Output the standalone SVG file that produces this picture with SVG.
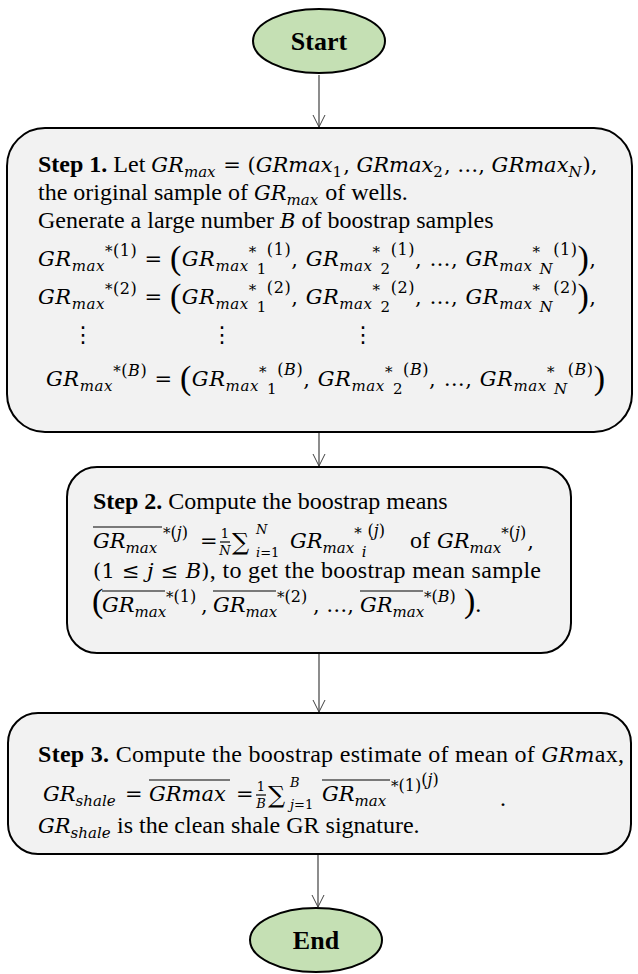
<svg xmlns="http://www.w3.org/2000/svg" width="638" height="974" viewBox="0 0 638 974">
<defs>
<marker id="ah" markerWidth="14" markerHeight="14" refX="12.5" refY="6.5" orient="auto" markerUnits="userSpaceOnUse">
<path d="M0.5,0.5 L12.5,6.5 L0.5,12.5" fill="none" stroke="#404040" stroke-width="1"/>
</marker>
<style>
.node{fill:#f2f2f2;stroke:#000;stroke-width:2}
.term{fill:#c5e0b4;stroke:#000;stroke-width:2}
.edge{stroke:#404040;stroke-width:1.2;fill:none;marker-end:url(#ah)}
text{font-family:"Liberation Serif","Times New Roman",serif;font-size:24px;fill:#000}
.b{font-weight:bold}
.m{font-family:"DejaVu Serif",serif;font-style:italic;font-size:21px}
.mu{font-family:"DejaVu Serif",serif;font-size:21px}
.ms{font-family:"DejaVu Serif",serif;font-style:italic;font-size:15px}
.mus{font-family:"DejaVu Serif",serif;font-size:15px}
.mp{font-family:"DejaVu Serif",serif;font-size:16px}
.mpi{font-family:"DejaVu Serif",serif;font-style:italic;font-size:16px}
.mt{font-family:"DejaVu Serif",serif;font-size:13px}
.mti{font-family:"DejaVu Serif",serif;font-style:italic;font-size:13px}
.sig{font-family:"DejaVu Serif",serif;font-size:24px}
.bp{font-family:"Liberation Serif",serif;font-size:34px}
.dots{font-family:"DejaVu Sans",sans-serif;font-size:22px;text-anchor:middle}
.ol{stroke:#000;stroke-width:1.2}
.lbl{font-weight:bold;font-size:26px;text-anchor:middle}
</style>
</defs>

<g id="connectors">
<line class="edge" x1="319" y1="75" x2="319" y2="127"/>
<line class="edge" x1="319" y1="432" x2="319" y2="466"/>
<line class="edge" x1="319" y1="653" x2="319" y2="712"/>
<line class="edge" x1="318" y1="854" x2="318" y2="907"/>
</g>

<g id="start">
<ellipse class="term" cx="319" cy="41" rx="66" ry="32"/>
<text class="lbl" x="319" y="50">Start</text>
</g>

<g id="step1">
<rect class="node" x="7" y="128" width="625" height="304" rx="38" ry="38"/>
<text x="38" y="172"><tspan class="b">Step 1.</tspan> Let <tspan class="m">GR</tspan><tspan class="ms" dy="5">max</tspan><tspan class="mu" dx="1" dy="-5"> = (</tspan><tspan class="m">GRmax</tspan><tspan class="mus" dy="5">1</tspan><tspan class="mu" dx="1" dy="-5">, </tspan><tspan class="m">GRmax</tspan><tspan class="mus" dy="5">2</tspan><tspan class="mu" dx="1" dy="-5">, …, </tspan><tspan class="m">GRmax</tspan><tspan class="ms" dy="5">N</tspan><tspan class="mu" dx="1" dy="-5">),</tspan></text>
<text x="38" y="200">the original sample of <tspan class="m">GR</tspan><tspan class="ms" dy="5">max</tspan><tspan dx="1" dy="-5"> of wells.</tspan></text>
<text x="38" y="228">Generate a large number <tspan class="m">B</tspan> of boostrap samples</text>

<text x="38" y="266" textLength="558" lengthAdjust="spacing"><tspan class="m">GR</tspan><tspan class="ms" dy="5">max</tspan><tspan class="mus" dy="-15">*</tspan><tspan class="mp">(1)</tspan><tspan class="mu" dy="10"> = </tspan><tspan class="bp" dy="3">(</tspan><tspan class="m" dy="-3">GR</tspan><tspan class="ms" dy="5">max</tspan><tspan class="mus" dy="-14">*</tspan><tspan class="mus" dy="17">1</tspan><tspan class="mp" dy="-19">(1)</tspan><tspan class="mu" dy="11">, </tspan><tspan class="m">GR</tspan><tspan class="ms" dy="5">max</tspan><tspan class="mus" dy="-14">*</tspan><tspan class="mus" dy="17">2</tspan><tspan class="mp" dy="-19">(1)</tspan><tspan class="mu" dy="11">, …, </tspan><tspan class="m">GR</tspan><tspan class="ms" dy="5">max</tspan><tspan class="mus" dy="-14">*</tspan><tspan class="ms" dx="-1" dy="17">N</tspan><tspan class="mp" dy="-19">(1)</tspan><tspan class="bp" dy="14">)</tspan><tspan class="mu" dy="-3">,</tspan></text>

<text x="38" y="304" textLength="558" lengthAdjust="spacing"><tspan class="m">GR</tspan><tspan class="ms" dy="5">max</tspan><tspan class="mus" dy="-15">*</tspan><tspan class="mp">(2)</tspan><tspan class="mu" dy="10"> = </tspan><tspan class="bp" dy="3">(</tspan><tspan class="m" dy="-3">GR</tspan><tspan class="ms" dy="5">max</tspan><tspan class="mus" dy="-14">*</tspan><tspan class="mus" dy="17">1</tspan><tspan class="mp" dy="-19">(2)</tspan><tspan class="mu" dy="11">, </tspan><tspan class="m">GR</tspan><tspan class="ms" dy="5">max</tspan><tspan class="mus" dy="-14">*</tspan><tspan class="mus" dy="17">2</tspan><tspan class="mp" dy="-19">(2)</tspan><tspan class="mu" dy="11">, …, </tspan><tspan class="m">GR</tspan><tspan class="ms" dy="5">max</tspan><tspan class="mus" dy="-14">*</tspan><tspan class="ms" dx="-1" dy="17">N</tspan><tspan class="mp" dy="-19">(2)</tspan><tspan class="bp" dy="14">)</tspan><tspan class="mu" dy="-3">,</tspan></text>

<text class="dots" y="342"><tspan x="83">⋮</tspan><tspan x="222">⋮</tspan><tspan x="363">⋮</tspan></text>

<text x="46" y="386" textLength="559" lengthAdjust="spacing"><tspan class="m">GR</tspan><tspan class="ms" dy="5">max</tspan><tspan class="mus" dy="-15">*</tspan><tspan class="mp">(</tspan><tspan class="mpi">B</tspan><tspan class="mp">)</tspan><tspan class="mu" dy="10"> = </tspan><tspan class="bp" dy="3">(</tspan><tspan class="m" dy="-3">GR</tspan><tspan class="ms" dy="5">max</tspan><tspan class="mus" dy="-14">*</tspan><tspan class="mus" dy="17">1</tspan><tspan class="mp" dy="-19">(</tspan><tspan class="mpi">B</tspan><tspan class="mp">)</tspan><tspan class="mu" dy="11">, </tspan><tspan class="m">GR</tspan><tspan class="ms" dy="5">max</tspan><tspan class="mus" dy="-14">*</tspan><tspan class="mus" dy="17">2</tspan><tspan class="mp" dy="-19">(</tspan><tspan class="mpi">B</tspan><tspan class="mp">)</tspan><tspan class="mu" dy="11">, …, </tspan><tspan class="m">GR</tspan><tspan class="ms" dy="5">max</tspan><tspan class="mus" dy="-14">*</tspan><tspan class="ms" dx="-1" dy="17">N</tspan><tspan class="mp" dy="-19">(</tspan><tspan class="mpi">B</tspan><tspan class="mp">)</tspan><tspan class="bp" dy="14">)</tspan></text>
</g>

<g id="step2">
<rect class="node" x="67" y="467" width="504" height="186" rx="30" ry="30"/>
<text x="93" y="509"><tspan class="b">Step 2.</tspan> Compute the boostrap means</text>
<line class="ol" x1="93" y1="527" x2="162" y2="527"/>
<text y="548"><tspan x="93" class="m">GR</tspan><tspan class="ms" dy="5">max</tspan><tspan x="163" class="mus" dy="-15">*</tspan><tspan class="mp">(</tspan><tspan class="mpi">j</tspan><tspan class="mp">)</tspan><tspan x="200" class="mu" dy="10">=</tspan></text>
<text class="mt" x="225" y="538" text-anchor="middle">1</text>
<line class="ol" x1="220" y1="542" x2="230" y2="542"/>
<text class="mti" x="225" y="555" text-anchor="middle">N</text>
<text y="550"><tspan x="232" class="sig">∑</tspan></text>
<text class="mti" x="256" y="534">N</text>
<text x="256" y="557"><tspan class="mti">i</tspan><tspan class="mt">=1</tspan></text>
<text y="548"><tspan x="290" class="m">GR</tspan><tspan class="ms" dy="5">max</tspan><tspan class="mus" dy="-15">*</tspan><tspan class="ms" dy="19">i</tspan><tspan class="mp" dx="1" dy="-21">(</tspan><tspan class="mpi">j</tspan><tspan class="mp">)</tspan><tspan x="410" dy="12">of</tspan><tspan x="437" class="m">GR</tspan><tspan class="ms" dy="5">max</tspan><tspan class="mus" dy="-15">*</tspan><tspan class="mp">(</tspan><tspan class="mpi">j</tspan><tspan class="mp">)</tspan><tspan class="mu" dx="1" dy="10">,</tspan></text>
<text x="93" y="578" textLength="448" lengthAdjust="spacing"><tspan class="mu">(1 ≤ </tspan><tspan class="m">j</tspan><tspan class="mu"> ≤ </tspan><tspan class="m">B</tspan><tspan class="mu">)</tspan>, to get the boostrap mean sample</text>
<line class="ol" x1="102" y1="591" x2="165" y2="591"/>
<line class="ol" x1="213" y1="591" x2="276" y2="591"/>
<line class="ol" x1="360" y1="591" x2="423" y2="591"/>
<text y="612"><tspan x="92" class="bp" font-size="27">(</tspan><tspan x="102" class="m">GR</tspan><tspan class="ms" dy="5">max</tspan><tspan x="166" class="mus" dy="-15">*</tspan><tspan class="mp">(1)</tspan><tspan x="201" class="mu" dy="10">,</tspan><tspan x="213" class="m">GR</tspan><tspan class="ms" dy="5">max</tspan><tspan x="277" class="mus" dy="-15">*</tspan><tspan class="mp">(2)</tspan><tspan x="313" class="mu" dy="10">, …,</tspan><tspan x="360" class="m">GR</tspan><tspan class="ms" dy="5">max</tspan><tspan x="424" class="mus" dy="-15">*</tspan><tspan class="mp">(</tspan><tspan class="mpi">B</tspan><tspan class="mp">)</tspan><tspan x="464" class="bp" font-size="27" dy="10">)</tspan><tspan>.</tspan></text>
</g>

<g id="step3">
<rect class="node" x="8" y="713" width="623" height="141" rx="30" ry="30"/>
<text x="38" y="762" textLength="586" lengthAdjust="spacing"><tspan class="b">Step 3.</tspan> Compute the boostrap estimate of mean of <tspan class="m">GRm</tspan>ax,</text>
<text y="801"><tspan x="43" class="m">GR</tspan><tspan class="ms" dy="5">shale</tspan><tspan x="125" class="mu" dy="-5">=</tspan><tspan x="149" class="m">GRmax</tspan><tspan x="236" class="mu">=</tspan></text>
<line class="ol" x1="149" y1="780" x2="230" y2="780"/>
<text class="mt" x="261" y="791" text-anchor="middle">1</text>
<line class="ol" x1="256" y1="795" x2="266" y2="795"/>
<text class="mti" x="261" y="808" text-anchor="middle">B</text>
<text y="803"><tspan x="268" class="sig">∑</tspan></text>
<text class="mti" x="290" y="787">B</text>
<text x="290" y="809"><tspan class="mti">j</tspan><tspan class="mt">=1</tspan></text>
<line class="ol" x1="322" y1="780" x2="390" y2="780"/>
<text y="801"><tspan x="322" class="m">GR</tspan><tspan class="ms" dy="5">max</tspan><tspan x="391" class="mus" dy="-15">*</tspan><tspan class="mp">(1)</tspan><tspan class="mp" dy="-6">(</tspan><tspan class="mpi">j</tspan><tspan class="mp">)</tspan><tspan x="500" dy="21">.</tspan></text>
<text y="833"><tspan x="38" class="m">GR</tspan><tspan class="ms" dy="5">shale</tspan><tspan x="117" dy="-5">is the clean shale GR signature.</tspan></text>
</g>

<g id="end">
<ellipse class="term" cx="316" cy="940" rx="66" ry="32"/>
<text class="lbl" x="316" y="949">End</text>
</g>
</svg>
